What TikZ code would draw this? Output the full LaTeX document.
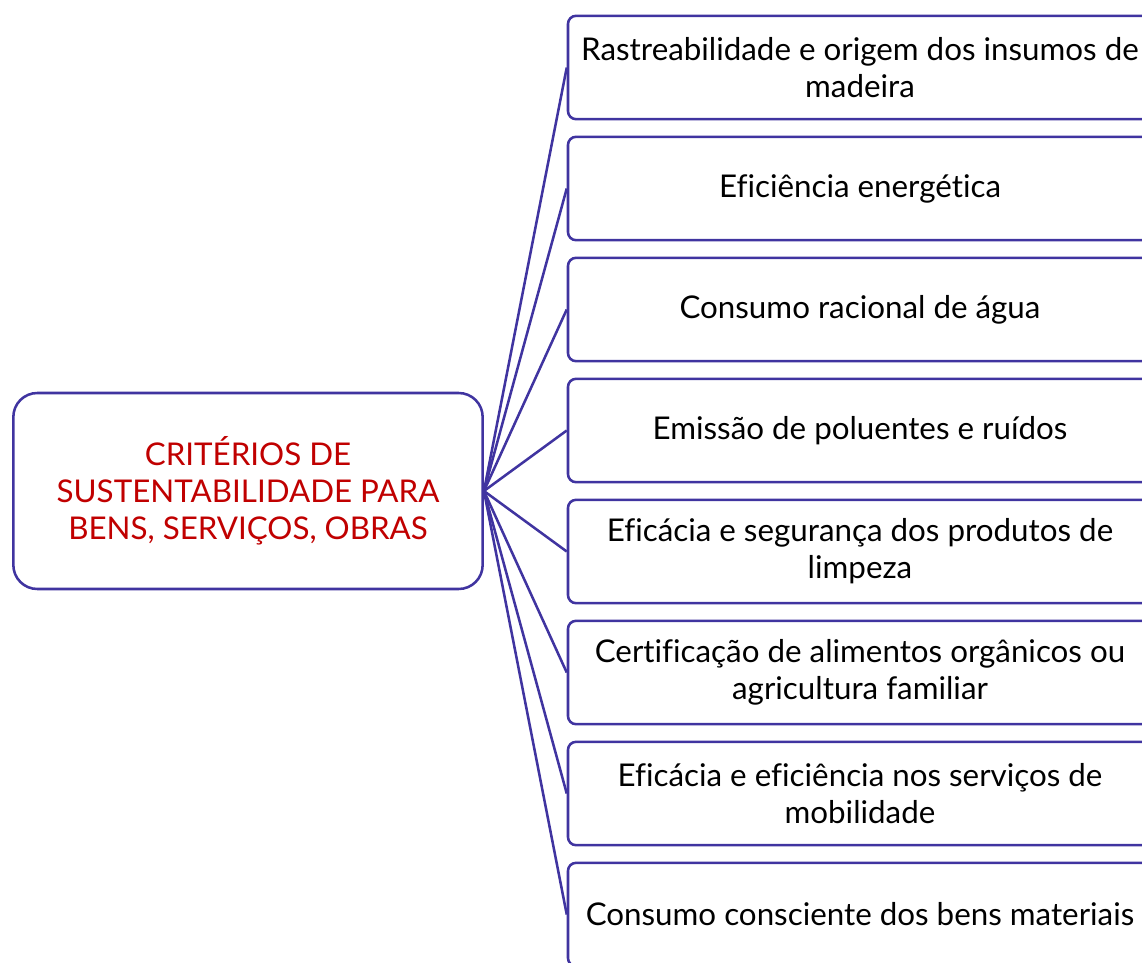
\documentclass[tikz,border=0pt]{standalone}
\usepackage{fontspec}
\setmainfont{Lato}[Ligatures=NoCommon]
\definecolor{linha}{RGB}{64,52,160}
\definecolor{titulo}{RGB}{192,0,0}

\tikzset{raiz/.style={draw=linha,line width=1.9pt,rounded corners=18pt,minimum width=352pt,minimum height=147pt,align=center,text=titulo,font=\fontsize{23.5}{27.75}\selectfont}}
\tikzset{crit/.style={draw=linha,line width=1.9pt,rounded corners=6pt,minimum width=438pt,minimum height=77.5pt,align=center,font=\fontsize{23.5}{27.75}\selectfont}}

\begin{document}
\begin{tikzpicture}
  [grow'=right,level distance=459pt,sibling distance=90.75pt,
  edge from parent/.style={draw=linha,line width=1.9pt},
  edge from parent path={(\tikzparentnode.east) -- (\tikzchildnode.west)},
  every child node/.style={crit}]
  \useasboundingbox (0,0) rectangle (856.5pt,-722.25pt);
  \node[raiz] (criterios) at (186pt,-368.25pt) {CRITÉRIOS DE\\SUSTENTABILIDADE PARA\\BENS, SERVIÇOS, OBRAS}
    child { node (madeira) {Rastreabilidade e origem dos insumos de\\madeira} }
    child { node (energia) {Eficiência energética} }
    child { node (agua) {Consumo racional de água} }
    child { node (emissao) {Emissão de poluentes e ruídos} }
    child { node (limpeza) {Eficácia e segurança dos produtos de\\limpeza} }
    child { node (alimentos) {Certificação de alimentos orgânicos ou\\agricultura familiar} }
    child { node (mobilidade) {Eficácia e eficiência nos serviços de\\mobilidade} }
    child { node (bens) {Consumo consciente dos bens materiais} }
  ;
\end{tikzpicture}
\end{document}
